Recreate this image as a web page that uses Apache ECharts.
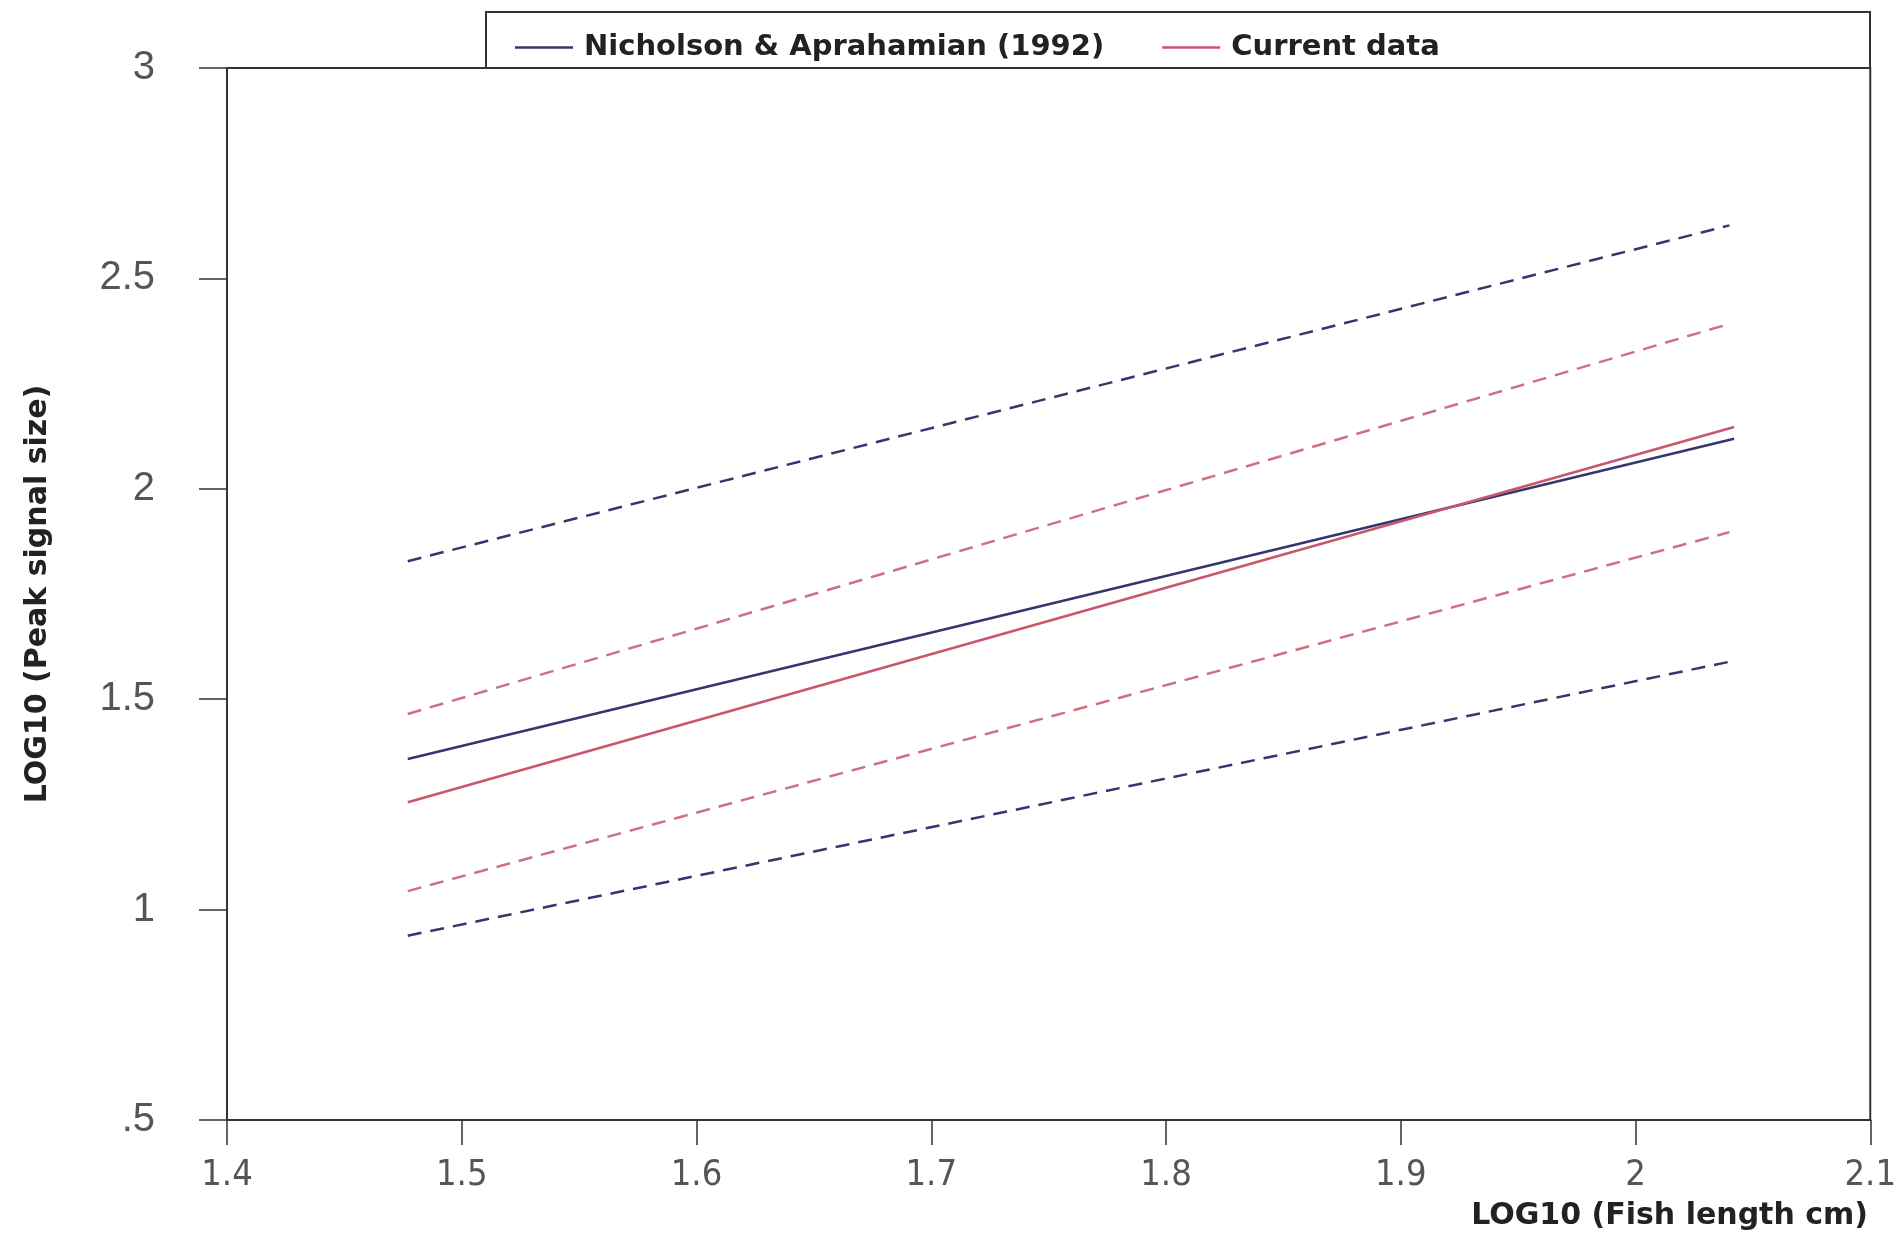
<!DOCTYPE html>
<html>
<head>
<meta charset="utf-8">
<script src="https://cdn.jsdelivr.net/npm/echarts@6/dist/echarts.min.js"></script>
<style>html,body{margin:0;padding:0;background:#fff}#c{width:1899px;height:1234px}</style>
</head>
<body>
<div id="c"></div>
<script>
// Endpoints (x = LOG10 fish length)
const xEnds = [1.477, 2.042];
const xEndsDashed = [1.477, 2.040];
// Nicholson & Aprahamian (1992)
const nichFit = [1.358, 2.119];
const nichUpper = [1.828, 2.626];
const nichLower = [0.938, 1.589];
// Current data
const currFit = [1.255, 2.147];
const currUpper = [1.465, 2.392];
const currLower = [1.044, 1.897];
const xTicks = [1.4, 1.5, 1.6, 1.7, 1.8, 1.9, 2, 2.1];
const yTicks = [0.5, 1, 1.5, 2, 2.5, 3];
const legendNames = ['Nicholson & Aprahamian (1992)', 'Current data'];

const BLUE = '#36366f';
const RED = '#c9566b';
const REDD = '#d0707f';
const BOLD = 'DejaVu Sans, Liberation Sans, Arial, sans-serif';

function pts(xs, ys){ return xs.map((x,i)=>[x, ys[i]]); }

const chart = echarts.init(document.getElementById('c'));
chart.setOption({
  animation:false,
  backgroundColor:'#fff',
  grid:{left:227,right:28,top:68,bottom:114,show:true,borderColor:'#333',borderWidth:2,backgroundColor:'transparent'},
  graphic:[{type:'rect',shape:{x:486,y:12,width:1384,height:56},style:{fill:'#fff',stroke:'#333',lineWidth:2},z:-1}],
  legend:{
    data:legendNames,left:510,top:28,itemWidth:58,itemHeight:2.5,itemGap:58,icon:'rect',
    textStyle:{fontFamily:BOLD,fontWeight:'bold',fontSize:29,color:'#222',padding:[0,0,0,6]}
  },
  title:{text:'LOG10 (Fish length cm)',right:26,top:1196,
    textStyle:{fontFamily:BOLD,fontWeight:'bold',fontSize:30,color:'#222'}},
  xAxis:{type:'value',min:1.4,max:2.1,interval:0.1,
    axisLine:{show:true,lineStyle:{color:'#333',width:2}},
    axisTick:{show:true,length:25,lineStyle:{color:'#333',width:1.5}},
    splitLine:{show:false},
    axisLabel:{margin:38,fontFamily:'Liberation Sans Narrow, DejaVu Sans Condensed, Arial, sans-serif',fontSize:36,color:'#555',
      formatter:v=>{const t=xTicks.find(a=>Math.abs(a-v)<1e-6);return t===undefined?'':String(t);}}
  },
  yAxis:{type:'value',min:0.5,max:3,interval:0.5,
    name:'LOG10 (Peak signal size)',nameLocation:'middle',nameGap:174,
    nameTextStyle:{fontFamily:BOLD,fontWeight:'bold',fontSize:30,color:'#222'},
    axisLine:{show:true,lineStyle:{color:'#333',width:2}},
    axisTick:{show:true,length:28,lineStyle:{color:'#333',width:1.5}},
    splitLine:{show:false},
    axisLabel:{margin:72,fontFamily:'Liberation Sans, Arial, sans-serif',fontSize:40,color:'#555',
      formatter:v=>{const t=yTicks.find(a=>Math.abs(a-v)<1e-6);if(t===undefined)return '';return t===0.5?'.5':String(t);}}
  },
  series:[
    {name:'Nicholson & Aprahamian (1992) upper',type:'line',data:pts(xEndsDashed,nichUpper),symbol:'none',lineStyle:{color:BLUE,width:2.5,type:[14,9]},itemStyle:{color:BLUE}},
    {name:'Current data upper',type:'line',data:pts(xEndsDashed,currUpper),symbol:'none',lineStyle:{color:REDD,width:2.5,type:[14,9]},itemStyle:{color:REDD}},
    {name:'Nicholson & Aprahamian (1992)',type:'line',data:pts(xEnds,nichFit),symbol:'none',lineStyle:{color:BLUE,width:2.5},itemStyle:{color:BLUE}},
    {name:'Current data',type:'line',data:pts(xEnds,currFit),symbol:'none',lineStyle:{color:RED,width:2.5},itemStyle:{color:RED}},
    {name:'Current data lower',type:'line',data:pts(xEndsDashed,currLower),symbol:'none',lineStyle:{color:REDD,width:2.5,type:[14,9]},itemStyle:{color:REDD}},
    {name:'Nicholson & Aprahamian (1992) lower',type:'line',data:pts(xEndsDashed,nichLower),symbol:'none',lineStyle:{color:BLUE,width:2.5,type:[14,9]},itemStyle:{color:BLUE}}
  ]
});
</script>
</body>
</html>
